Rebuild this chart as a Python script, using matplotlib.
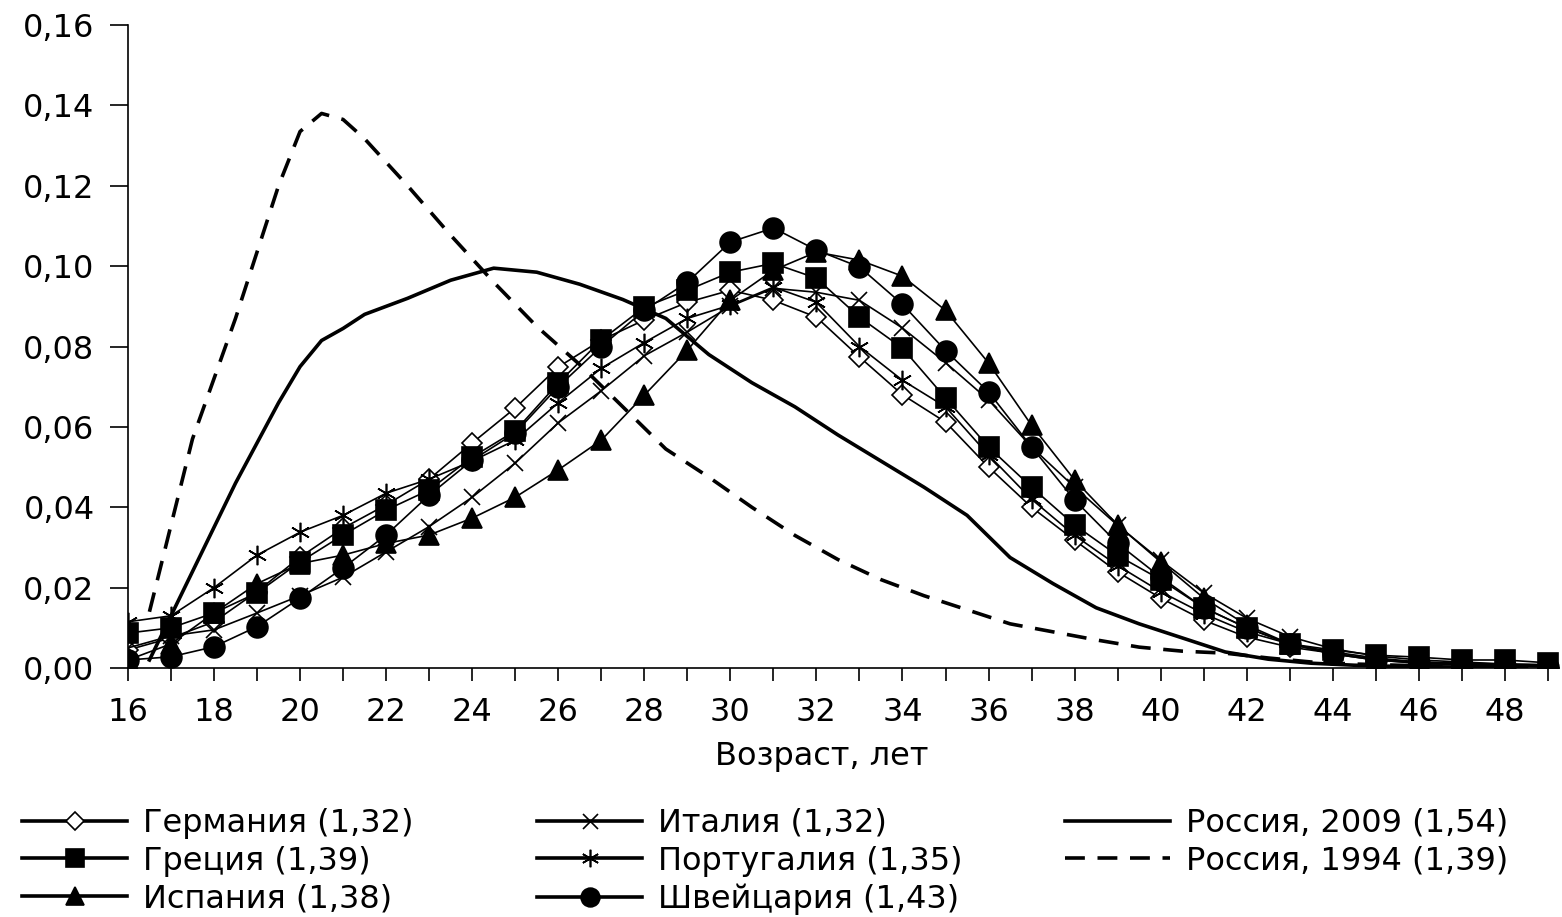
import numpy as np
import matplotlib
matplotlib.use('Agg')
import matplotlib.pyplot as plt

plt.rcParams['font.family'] = ['DejaVu Sans']

ages = list(range(16, 50))

germany = [0.0045, 0.0075, 0.0115, 0.019, 0.0276, 0.0348, 0.0406, 0.047, 0.056, 0.0647,
           0.0749, 0.0816, 0.0866, 0.091, 0.094, 0.0915, 0.0873, 0.0774, 0.068, 0.0612,
           0.050, 0.040, 0.0318, 0.0239, 0.0174, 0.0119, 0.0077, 0.0052, 0.0037, 0.0022,
           0.0015, 0.0012, 0.001, 0.0008]
greece = [0.0087, 0.010, 0.0137, 0.0187, 0.0264, 0.0331, 0.0393, 0.0443, 0.0525, 0.059,
          0.0709, 0.0816, 0.0898, 0.094, 0.0985, 0.1007, 0.097, 0.0873, 0.0796, 0.0672,
          0.055, 0.045, 0.0356, 0.028, 0.022, 0.015, 0.010, 0.006, 0.0045, 0.0032,
          0.0027, 0.002, 0.002, 0.0013]
spain = [0.002, 0.006, 0.0137, 0.021, 0.026, 0.0281, 0.031, 0.0331, 0.0373, 0.0425,
         0.0493, 0.0567, 0.0679, 0.0791, 0.0915, 0.099, 0.1035, 0.1015, 0.0975, 0.089,
         0.0759, 0.0604, 0.0468, 0.0356, 0.0264, 0.0174, 0.0107, 0.006, 0.0035, 0.002,
         0.0012, 0.0008, 0.0005, 0.0003]
italy = [0.005, 0.008, 0.0095, 0.0137, 0.018, 0.0226, 0.0289, 0.0352, 0.0425, 0.051,
         0.061, 0.069, 0.0777, 0.0836, 0.090, 0.0945, 0.0935, 0.0915, 0.0846, 0.076,
         0.0667, 0.055, 0.045, 0.0355, 0.0268, 0.0187, 0.0124, 0.0078, 0.0048, 0.003,
         0.002, 0.0015, 0.001, 0.0008]
portugal = [0.0115, 0.013, 0.020, 0.0281, 0.0338, 0.038, 0.0435, 0.047, 0.0515, 0.0567,
            0.066, 0.0746, 0.081, 0.087, 0.0903, 0.0948, 0.091, 0.080, 0.0716, 0.065,
            0.053, 0.042, 0.033, 0.0255, 0.019, 0.0135, 0.009, 0.006, 0.004, 0.0025,
            0.0015, 0.001, 0.0007, 0.0005]
switzerland = [0.002, 0.0028, 0.0053, 0.0103, 0.0174, 0.0249, 0.0331, 0.043, 0.0517, 0.0585,
               0.070, 0.080, 0.089, 0.096, 0.106, 0.1095, 0.104, 0.0998, 0.0905, 0.079,
               0.0687, 0.055, 0.0418, 0.031, 0.0226, 0.015, 0.010, 0.006, 0.0035, 0.002,
               0.0012, 0.0008, 0.0005, 0.0003]

russia_ages = [16.5, 17.5, 18.5, 19.5, 20.0, 20.5, 21.0, 21.5, 22.5, 23.5, 24.5, 25.5,
               26.5, 27.5, 28.5, 29.5, 30.5, 31.5, 32.5, 33.5, 34.5, 35.5, 36.5, 37.5,
               38.5, 39.5, 40.5, 41.5, 42.5, 43.5, 44.5, 45.5, 46.5, 47.5, 48.5]
russia_2009 = [0.002, 0.024, 0.046, 0.066, 0.075, 0.0815, 0.0845, 0.088, 0.092, 0.0965,
               0.0995, 0.0985, 0.0955, 0.0917, 0.087, 0.078, 0.071, 0.065, 0.058, 0.0515,
               0.045, 0.038, 0.0275, 0.021, 0.015, 0.011, 0.0075, 0.004, 0.0022, 0.0012,
               0.0007, 0.0004, 0.0003, 0.0002, 0.0001]
russia_1994 = [0.014, 0.057, 0.087, 0.120, 0.1335, 0.138, 0.1365, 0.1317, 0.120, 0.1077,
               0.096, 0.085, 0.0755, 0.065, 0.0545, 0.0475, 0.040, 0.033, 0.027, 0.022,
               0.018, 0.0145, 0.011, 0.009, 0.007, 0.0052, 0.0042, 0.0037, 0.0025, 0.0015,
               0.001, 0.0007, 0.0005, 0.0003, 0.0002]

labels = ['Германия (1,32)', 'Греция (1,39)', 'Испания (1,38)',
          'Италия (1,32)', 'Португалия (1,35)', 'Швейцария (1,43)',
          'Россия, 2009 (1,54)', 'Россия, 1994 (1,39)']

fs = 23
fig = plt.figure(figsize=(15.62, 9.17), dpi=100)
ax = fig.add_axes([0.0819, 0.2715, 0.916, 0.7012])

kw = dict(color='black', linewidth=1.2, markeredgecolor='black', markeredgewidth=1.2)
h = []
h += ax.plot(ages, germany, marker='D', markersize=10, markerfacecolor='white', label=labels[0], **kw)
h += ax.plot(ages, greece, marker='s', markersize=15, markerfacecolor='black', label=labels[1], **kw)
h += ax.plot(ages, spain, marker='^', markersize=14, markerfacecolor='black', label=labels[2], **kw)
h += ax.plot(ages, italy, marker='x', markersize=12, label=labels[3], **kw)
h += ax.plot(ages, portugal, marker=(6, 2, 0), markersize=14, label=labels[4], **kw)
h += ax.plot(ages, switzerland, marker='o', markersize=15, markerfacecolor='black', label=labels[5], **kw)
h += ax.plot(russia_ages, russia_2009, color='black', linewidth=2.6, label=labels[6], zorder=3)
h += ax.plot(russia_ages, russia_1994, color='black', linewidth=2.6, linestyle=(0, (5.5, 3.5)),
             label=labels[7], zorder=3)

ax.set_xlim(16, 49.25)
ax.set_ylim(0, 0.16)
yt = np.arange(0, 0.161, 0.02)
ax.set_yticks(yt)
ax.set_yticklabels([('%.2f' % v).replace('.', ',') for v in yt])
ax.set_xticks(list(range(16, 49, 2)))
ax.set_xticks(list(range(17, 50, 2)), minor=True)

for s in ['top', 'right']:
    ax.spines[s].set_visible(False)
for s in ['left', 'bottom']:
    ax.spines[s].set_linewidth(1.2)
ax.tick_params(axis='y', length=13, width=1.2, pad=11, labelsize=fs)
ax.tick_params(axis='x', which='both', length=9.5, width=1.2, pad=11, labelsize=fs)

ax.set_xlabel('Возраст, лет', fontsize=fs)
ax.xaxis.set_label_coords(0.485, -0.113)

groups = [(h[0:3], 22), (h[3:6], 537), (h[6:8], 1065)]
for handles, x0 in groups:
    leg = fig.legend(handles=handles, loc='upper left', bbox_to_anchor=(x0 / 1562, 0.119),
                     frameon=False, fontsize=fs, handlelength=3.3, handletextpad=0.5,
                     labelspacing=0.21, borderpad=0, borderaxespad=0, markerscale=0.9)
    for ln in leg.get_lines():
        ln.set_linewidth(2.6)

fig.savefig('out.png', dpi=100)
